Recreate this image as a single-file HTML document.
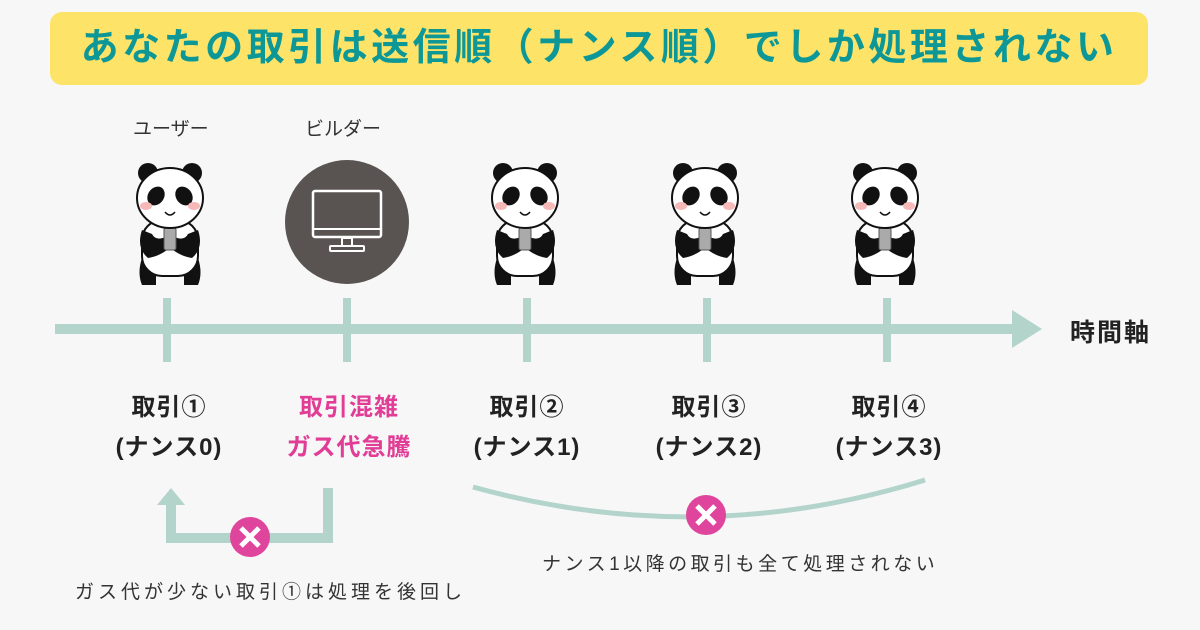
<!DOCTYPE html>
<html><head><meta charset="utf-8"><style>
body{margin:0;width:1200px;height:630px;background:#f7f7f7;font-family:"Liberation Sans","Noto Sans CJK JP",sans-serif;position:relative;overflow:hidden}
.t{position:absolute;white-space:nowrap}
.banner{position:absolute;left:50px;top:12px;width:1098px;height:73px;background:#fde468;border-radius:12px;color:#0d9797;font-size:38px;font-weight:bold;text-align:center;line-height:73px;letter-spacing:3.5px}
.lab{position:absolute;width:200px;text-align:center;font-size:24px;font-weight:bold;color:#222;line-height:40px;letter-spacing:1px}
.pink{color:#e13d96}
</style></head><body>
<div class="banner">あなたの取引は送信順（ナンス順）でしか処理されない</div>
<div class="t" style="left:133px;top:114px;font-size:19px;color:#333">ユーザー</div>
<div class="t" style="left:305px;top:114px;font-size:19px;color:#333">ビルダー</div>
<div class="t" style="left:1070px;top:313px;font-size:25px;font-weight:bold;color:#222;letter-spacing:2px">時間軸</div>
<svg width="1200" height="630" style="position:absolute;left:0;top:0">
<defs>
<g id="panda">
<ellipse cx="-22" cy="-55" rx="10" ry="10" fill="#111"/>
<ellipse cx="22" cy="-55" rx="10" ry="10" fill="#111"/>
<path d="M-14 40 L-14 57 L-28 57 Q-33 45 -28 30 Z" fill="#111"/>
<path d="M14 40 L14 57 L28 57 Q33 45 28 30 Z" fill="#111"/>
<rect x="-28" y="-8" width="56" height="56" rx="20" fill="#fff" stroke="#111" stroke-width="2"/>
<path d="M-28 2 Q-34 20 -22 30 Q-8 28 4 16 L-2 8 Q-14 14 -18 6 Z" fill="#111"/>
<path d="M28 2 Q34 20 22 30 Q8 28 -4 16 L2 8 Q14 14 18 6 Z" fill="#111"/>
<rect x="-6" y="0" width="12" height="22" rx="2" fill="#aaa" stroke="#555"/>
<ellipse cx="0" cy="-30" rx="33" ry="30" fill="#fff" stroke="#111" stroke-width="2"/>
<ellipse cx="-14" cy="-32" rx="8" ry="10" fill="#111" transform="rotate(35 -14 -32)"/>
<ellipse cx="14" cy="-32" rx="8" ry="10" fill="#111" transform="rotate(-35 14 -32)"/>
<ellipse cx="-24" cy="-22" rx="6" ry="4" fill="#f7b8b8"/>
<ellipse cx="24" cy="-22" rx="6" ry="4" fill="#f7b8b8"/>
<path d="M-5 -16 Q0 -10 5 -16" stroke="#111" stroke-width="1.5" fill="none"/>
</g>
</defs>
<use href="#panda" x="170" y="228"/>
<use href="#panda" x="525" y="228"/>
<use href="#panda" x="705" y="228"/>
<use href="#panda" x="885" y="228"/>
<circle cx="347" cy="222" r="62" fill="#595452"/>
<rect x="313" y="191" width="68" height="46" rx="2" fill="none" stroke="#fff" stroke-width="2.5"/>
<line x1="313" y1="229" x2="381" y2="229" stroke="#fff" stroke-width="2"/>
<rect x="342" y="238" width="10" height="8" fill="none" stroke="#fff" stroke-width="2"/>
<rect x="330" y="246" width="34" height="5" rx="1" fill="none" stroke="#fff" stroke-width="2"/>
<g fill="#b3d4cb">
<rect x="55" y="324" width="960" height="10"/>
<polygon points="1012,310 1042,329 1012,348"/>
<rect x="163" y="298" width="8" height="64"/>
<rect x="343" y="298" width="8" height="64"/>
<rect x="523" y="298" width="8" height="64"/>
<rect x="703" y="298" width="8" height="64"/>
<rect x="883" y="298" width="8" height="64"/>
<polygon points="157,505 171,488 185,505"/>
</g>
<path d="M171 503 V538 H328 V488" stroke="#b3d4cb" stroke-width="10" fill="none"/>
<path d="M473 487 Q700 550 925 480" stroke="#b3d4cb" stroke-width="5" fill="none"/>
<g stroke="#fff" stroke-width="5">
<circle cx="250" cy="537" r="20" fill="#e0459d" stroke="none"/>
<line x1="241" y1="528" x2="259" y2="546"/><line x1="259" y1="528" x2="241" y2="546"/>
<circle cx="706" cy="515" r="20" fill="#e0459d" stroke="none"/>
<line x1="697" y1="506" x2="715" y2="524"/><line x1="715" y1="506" x2="697" y2="524"/>
</g>
</svg>
<div class="lab" style="left:69px;top:388px">取引①<br>(ナンス0)</div>
<div class="lab pink" style="left:249px;top:388px">取引混雑<br>ガス代急騰</div>
<div class="lab" style="left:427px;top:388px">取引②<br>(ナンス1)</div>
<div class="lab" style="left:609px;top:388px">取引③<br>(ナンス2)</div>
<div class="lab" style="left:789px;top:388px">取引④<br>(ナンス3)</div>
<div class="t" style="left:75px;top:577px;font-size:19px;color:#333;letter-spacing:4px">ガス代が少ない取引①は処理を後回し</div>
<div class="t" style="left:542px;top:549px;font-size:19px;color:#333;letter-spacing:3.5px">ナンス1以降の取引も全て処理されない</div>
</body></html>
